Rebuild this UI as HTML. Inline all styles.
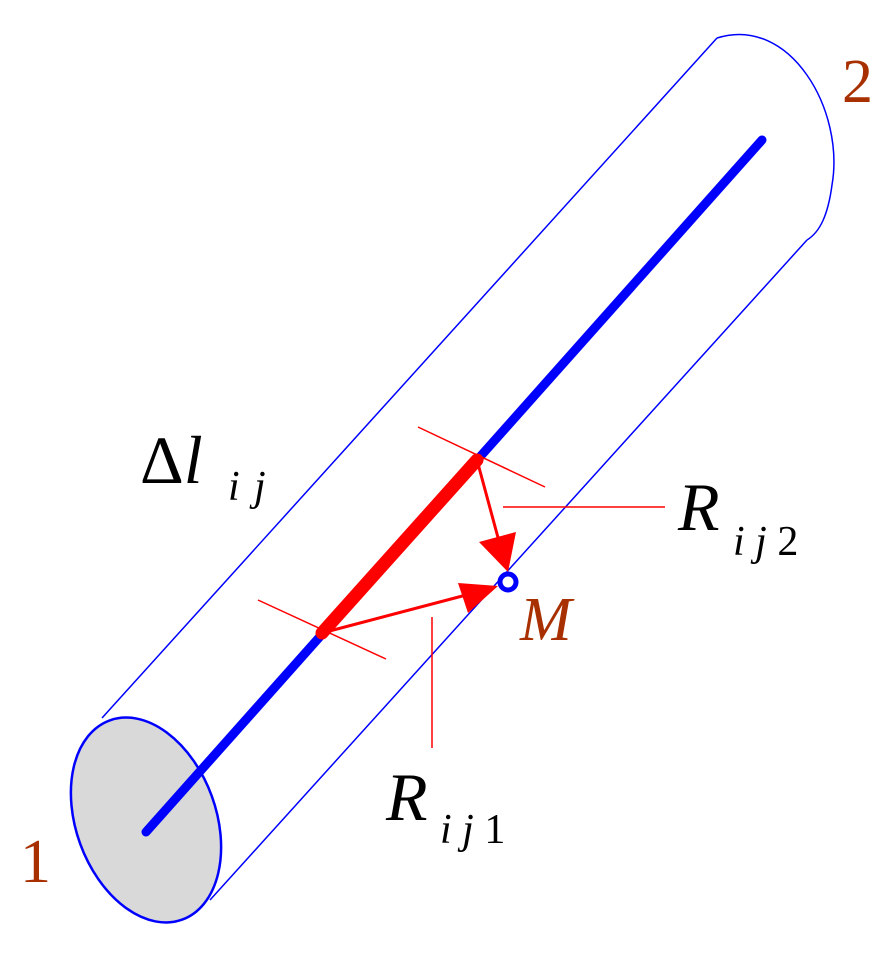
<!DOCTYPE html>
<html><head><style>body{margin:0;background:#fff} text{font-family:"Liberation Serif","Times New Roman","DejaVu Serif",serif}</style></head><body>
<svg width="894" height="968" xmlns="http://www.w3.org/2000/svg">
<ellipse cx="146" cy="820" rx="70" ry="106" transform="rotate(-20 146 820)" fill="#d9d9d9" stroke="#0000ff" stroke-width="2.5"/>
<line x1="102" y1="718" x2="717" y2="38" stroke="#0000ff" stroke-width="1.5"/>
<line x1="210" y1="900" x2="807" y2="240" stroke="#0000ff" stroke-width="1.5"/>
<path d="M717,38 C790,15 845,110 832,185 C828,215 820,232 807,240" fill="none" stroke="#0000ff" stroke-width="1.5"/>
<line x1="146" y1="832" x2="762" y2="140" stroke="#0000ff" stroke-width="9" stroke-linecap="round"/>
<line x1="322" y1="633" x2="477" y2="460" stroke="#ff0000" stroke-width="13" stroke-linecap="round"/>
<line x1="418" y1="427" x2="545" y2="487" stroke="#ff0000" stroke-width="1.5"/>
<line x1="258" y1="600" x2="386" y2="659" stroke="#ff0000" stroke-width="1.5"/>
<line x1="503" y1="507" x2="665" y2="507" stroke="#ff0000" stroke-width="1.5"/>
<line x1="432" y1="617" x2="432" y2="748" stroke="#ff0000" stroke-width="1.5"/>
<line x1="477" y1="460" x2="500" y2="545" stroke="#ff0000" stroke-width="3"/>
<polygon points="508,572 479,542 516,532" fill="#ff0000"/>
<line x1="322" y1="633" x2="470" y2="594" stroke="#ff0000" stroke-width="3"/>
<polygon points="498,586 458,583 468,613" fill="#ff0000"/>
<circle cx="508" cy="582" r="8" fill="#fff" stroke="#0000ff" stroke-width="5"/>
<text x="140" y="483" font-size="68" fill="#000">Δ<tspan font-style="italic">l</tspan></text>
<text x="228" y="500" font-size="42" font-style="italic">i</text>
<text x="254" y="500" font-size="42" font-style="italic">j</text>
<text x="678" y="530" font-size="68" font-style="italic">R</text>
<text x="733" y="555" font-size="42"><tspan font-style="italic">i j</tspan> 2</text>
<text x="520" y="640" font-size="62" font-style="italic" fill="#a83000">M</text>
<text x="386" y="820" font-size="68" font-style="italic">R</text>
<text x="440" y="843" font-size="42"><tspan font-style="italic">i j</tspan> 1</text>
<text x="20" y="882" font-size="62" fill="#a83000">1</text>
<text x="842" y="102" font-size="62" fill="#a83000">2</text>
</svg>
</body></html>
